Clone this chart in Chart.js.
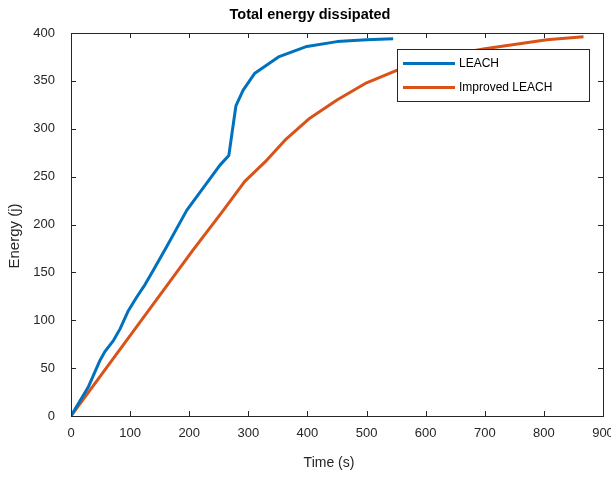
<!DOCTYPE html>
<html>
<head>
<meta charset="utf-8">
<script src="https://cdn.jsdelivr.net/npm/chart.js@4/dist/chart.umd.min.js"></script>
<style>
  html, body { margin: 0; padding: 0; background: #fff; }
  #wrap { width: 611px; height: 478px; }
</style>
</head>
<body>
<div id="wrap"><canvas id="energyChart"></canvas></div>
<script>
// LEACH vs improved LEACH, cumulative energy over time
const leachTime = [0, 29, 49, 57, 72, 83, 97, 111, 125, 139, 162, 196, 215, 252, 267, 279, 291, 311, 351, 399, 450, 500, 545];
const leachEnergy = [0, 30, 58, 67, 79, 91, 110, 124, 137, 152, 177, 215, 231, 262, 272, 324, 340, 358, 375, 386, 391, 393, 394];
const improvedTime = [0, 100, 206, 258, 294, 331, 362, 404, 450, 500, 551, 600, 650, 700, 750, 805, 867];
const improvedEnergy = [0, 84, 173, 215, 245, 267, 288, 311, 330, 348, 361, 371, 378, 383.5, 388, 393, 396];
const seriesNames = ["LEACH", "Improved LEACH"];
const seriesColours = ["#0072BD", "#D95319"];

const axisColour = "#262626";
const fontFamily = "'Liberation Sans', Arial, sans-serif";

function toPoints(xs, ys) {
    return xs.map((x, i) => ({ x: x, y: ys[i] }));
}

// matlab style box, inward ticks, titles and legend
const matlabAxes = {
    id: "matlabAxes",
    afterDatasetsDraw(chart) {
        const ctx = chart.ctx;
        const a = chart.chartArea;
        const xs = chart.scales.x;
        const ys = chart.scales.y;
        const tick = 5;
        ctx.save();
        ctx.strokeStyle = axisColour;
        ctx.lineWidth = 1;
        ctx.strokeRect(Math.round(a.left) + 0.5, Math.round(a.top) + 0.5, Math.round(a.right - a.left), Math.round(a.bottom - a.top));
        ctx.beginPath();
        xs.ticks.forEach(t => {
            const px = Math.round(xs.getPixelForValue(t.value)) + 0.5;
            ctx.moveTo(px, a.bottom); ctx.lineTo(px, a.bottom - tick);
            ctx.moveTo(px, a.top); ctx.lineTo(px, a.top + tick);
        });
        ys.ticks.forEach(t => {
            const py = Math.round(ys.getPixelForValue(t.value)) + 0.5;
            ctx.moveTo(a.left, py); ctx.lineTo(a.left + tick, py);
            ctx.moveTo(a.right, py); ctx.lineTo(a.right - tick, py);
        });
        ctx.stroke();

        // legend
        const lx = 397, ly = 49, lw = 192, lh = 52;
        ctx.fillStyle = "#fff";
        ctx.fillRect(lx, ly, lw, lh);
        ctx.strokeRect(lx + 0.5, ly + 0.5, lw, lh);
        ctx.font = "12px " + fontFamily;
        ctx.textBaseline = "middle";
        ctx.textAlign = "left";
        chart.data.datasets.forEach((ds, i) => {
            const y = 63.5 + i * 24;
            ctx.strokeStyle = ds.borderColor;
            ctx.lineWidth = 3;
            ctx.beginPath();
            ctx.moveTo(403, y); ctx.lineTo(455, y);
            ctx.stroke();
            ctx.fillStyle = "#000";
            ctx.fillText(ds.label, 459, y);
        });

        // titles
        ctx.fillStyle = "#000";
        ctx.textAlign = "center";
        ctx.textBaseline = "alphabetic";
        ctx.font = "bold 14.5px " + fontFamily;
        ctx.fillText("Total energy dissipated", 310, 18.5);
        ctx.fillStyle = axisColour;
        ctx.font = "14px " + fontFamily;
        ctx.textBaseline = "middle";
        ctx.fillText("Time (s)", 329, 463);
        ctx.font = "15px " + fontFamily;
        ctx.translate(15, 236);
        ctx.rotate(-Math.PI / 2);
        ctx.fillText("Energy (j)", 0, 0);
        ctx.restore();
    }
};

new Chart(document.getElementById("energyChart"), {
    type: "line",
    data: {
        datasets: [
            { label: seriesNames[0], data: toPoints(leachTime, leachEnergy), borderColor: seriesColours[0], backgroundColor: seriesColours[0] },
            { label: seriesNames[1], data: toPoints(improvedTime, improvedEnergy), borderColor: seriesColours[1], backgroundColor: seriesColours[1] }
        ]
    },
    options: {
        responsive: true,
        maintainAspectRatio: false,
        animation: false,
        layout: { padding: { top: 33, left: 0, right: 8, bottom: 0 } },
        elements: {
            line: { borderWidth: 3, tension: 0, borderJoinStyle: "round" },
            point: { radius: 0 }
        },
        plugins: {
            legend: { display: false },
            title: { display: false },
            tooltip: { enabled: false }
        },
        scales: {
            x: {
                type: "linear",
                min: 0, max: 900,
                grid: { display: false, drawTicks: false },
                border: { display: false },
                ticks: { stepSize: 100, padding: 10, color: axisColour, font: { family: fontFamily, size: 13 }, maxRotation: 0 },
                afterFit(s) { s.height = 62; s.paddingLeft = 0; s.paddingRight = 0; }
            },
            y: {
                min: 0, max: 400,
                grid: { display: false, drawTicks: false },
                border: { display: false },
                ticks: { stepSize: 50, padding: 16, color: axisColour, font: { family: fontFamily, size: 13 } },
                afterFit(s) { s.width = 71; s.paddingTop = 0; s.paddingBottom = 0; }
            }
        }
    },
    plugins: [matlabAxes]
});
</script>
</body>
</html>
